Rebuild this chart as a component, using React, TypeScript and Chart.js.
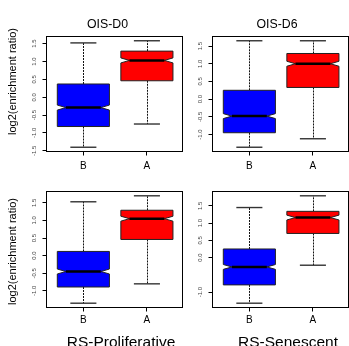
import React, { useEffect, useRef } from "react";
import { Chart, registerables } from "chart.js";

Chart.register(...registerables);

// Groups on the x axis of every panel
const groups = ["B", "A"];
const groupColors = ["#0000FF", "#FF0000"];
const panelTitles = ["OIS-D0", "OIS-D6", "RS-Proliferative", "RS-Senescent"];
const yAxisTitle = "log2(enrichment ratio)";

// Five-number summaries: [lower whisker, Q1, median, Q3, upper whisker]
const oisD0B = [-1.4, -0.82, -0.29, 0.37, 1.52];
const oisD0A = [-0.75, 0.46, 1.03, 1.29, 1.58];
const oisD6B = [-1.36, -0.95, -0.48, 0.25, 1.65];
const oisD6A = [-1.12, 0.33, 1.0, 1.29, 1.65];
const rsProB = [-1.35, -0.89, -0.45, 0.12, 1.53];
const rsProA = [-0.8, 0.46, 1.05, 1.29, 1.7];
const rsSenB = [-1.32, -0.79, -0.27, 0.25, 1.45];
const rsSenA = [-0.22, 0.7, 1.16, 1.34, 1.79];

// Labelled y ticks per panel
const ticksOisD0 = [-1.5, -1.0, -0.5, 0.0, 0.5, 1.0, 1.5];
const ticksOisD6 = [-1.0, -0.5, 0.0, 0.5, 1.0, 1.5];
const ticksRsPro = [-1.0, -0.5, 0.0, 0.5, 1.0, 1.5];
const ticksRsSen = [-1.0, 0.0, 0.5, 1.0, 1.5];

// Half-height of the median notch, in y units
const NOTCH_HALF = 0.07;

const FONT = "'Liberation Sans', Arial, Helvetica, sans-serif";
const Y_W = 16;
const X_H = 18;
const BOX_HALF = 0.41; // half box width in x units
const NOTCH_INDENT = 0.33; // fraction of half width cut in at the median
const X_MIN = 0.42;
const X_MAX = 2.56;

type Area = { l: number; r: number; t: number; b: number };
type PanelSpec = {
  title: string;
  stats: number[][];
  yTicks: number[];
  left: number;
  top: number;
  w: number;
  h: number;
  area: Area;
  titleAt: { x: number; y: number; size: number };
  ylab: boolean;
  xGap: number;
};

const panels: PanelSpec[] = [
  {
    title: panelTitles[0],
    stats: [oisD0B, oisD0A],
    yTicks: ticksOisD0,
    left: 0,
    top: 0,
    w: 196,
    h: 170,
    area: { l: 46.5, r: 182.5, t: 36.5, b: 151.5 },
    titleAt: { x: 107.5, y: 27.5, size: 12.3 },
    ylab: true,
    xGap: 5,
  },
  {
    title: panelTitles[1],
    stats: [oisD6B, oisD6A],
    yTicks: ticksOisD6,
    left: 196,
    top: 0,
    w: 153,
    h: 170,
    area: { l: 16.5, r: 152.5, t: 36.5, b: 151.5 },
    titleAt: { x: 81, y: 27.5, size: 12.3 },
    ylab: false,
    xGap: 5,
  },
  {
    title: panelTitles[2],
    stats: [rsProB, rsProA],
    yTicks: ticksRsPro,
    left: 0,
    top: 170,
    w: 196,
    h: 176,
    area: { l: 46.5, r: 182.5, t: 21.5, b: 137.5 },
    titleAt: { x: 121, y: 176.8, size: 15.5 },
    ylab: true,
    xGap: 3,
  },
  {
    title: panelTitles[3],
    stats: [rsSenB, rsSenA],
    yTicks: ticksRsSen,
    left: 196,
    top: 170,
    w: 153,
    h: 176,
    area: { l: 16.5, r: 152.5, t: 21.5, b: 137.5 },
    titleAt: { x: 92, y: 176.8, size: 15.5 },
    ylab: false,
    xGap: 3,
  },
];

// y limits padded by 4% of the whisker range on each side
function yRange(stats: number[][]): [number, number] {
  const lo = Math.min(...stats.map((s) => s[0]));
  const hi = Math.max(...stats.map((s) => s[4]));
  const pad = (hi - lo) * 0.04;
  return [lo - pad, hi + pad];
}

function makeBoxPlugin(stats: number[][]) {
  return {
    id: "notchedBoxes",
    afterDatasetsDraw(chart: any) {
      const { ctx } = chart;
      const xs = chart.scales.x;
      const ys = chart.scales.y;
      const line = (x1: number, y1: number, x2: number, y2: number) => {
        ctx.beginPath();
        ctx.moveTo(x1, y1);
        ctx.lineTo(x2, y2);
        ctx.stroke();
      };
      stats.forEach((s, i) => {
        const [lo, q1, med, q3, hi] = s;
        const cx = xs.getPixelForValue(i + 1);
        const hw = xs.getPixelForValue(i + 1 + BOX_HALF) - cx;
        const capW = hw / 2;
        const nw = hw * (1 - NOTCH_INDENT);
        const pLo = ys.getPixelForValue(lo);
        const pQ1 = ys.getPixelForValue(q1);
        const pMed = ys.getPixelForValue(med);
        const pQ3 = ys.getPixelForValue(q3);
        const pHi = ys.getPixelForValue(hi);
        const pNLo = ys.getPixelForValue(med - NOTCH_HALF);
        const pNHi = ys.getPixelForValue(med + NOTCH_HALF);
        const xc = Math.round(cx) + 0.5;

        ctx.save();
        // whiskers
        ctx.strokeStyle = "#111";
        ctx.lineWidth = 1;
        ctx.setLineDash([2, 1]);
        line(xc, pQ3, xc, pHi);
        line(xc, pQ1, xc, pLo);
        ctx.setLineDash([]);
        // whisker caps
        ctx.strokeStyle = "#333";
        ctx.lineWidth = 1.4;
        line(cx - capW, pHi, cx + capW, pHi);
        line(cx - capW, pLo, cx + capW, pLo);
        // notched box
        ctx.beginPath();
        ctx.moveTo(cx - hw, pQ1);
        ctx.lineTo(cx - hw, pNLo);
        ctx.lineTo(cx - nw, pMed);
        ctx.lineTo(cx - hw, pNHi);
        ctx.lineTo(cx - hw, pQ3);
        ctx.lineTo(cx + hw, pQ3);
        ctx.lineTo(cx + hw, pNHi);
        ctx.lineTo(cx + nw, pMed);
        ctx.lineTo(cx + hw, pNLo);
        ctx.lineTo(cx + hw, pQ1);
        ctx.closePath();
        ctx.fillStyle = groupColors[i];
        ctx.fill();
        ctx.strokeStyle = "#222";
        ctx.lineWidth = 1;
        ctx.stroke();
        // median
        ctx.strokeStyle = "#000";
        ctx.lineWidth = 2.5;
        line(cx - nw, pMed, cx + nw, pMed);
        ctx.restore();
      });
    },
  };
}

function makeTextPlugin(p: PanelSpec) {
  return {
    id: "panelText",
    afterDraw(chart: any) {
      const { ctx, chartArea } = chart;
      ctx.save();
      // plot frame
      ctx.strokeStyle = "#000";
      ctx.lineWidth = 1;
      ctx.strokeRect(
        chartArea.left,
        chartArea.top,
        chartArea.right - chartArea.left,
        chartArea.bottom - chartArea.top
      );
      // panel title
      ctx.fillStyle = "#000";
      ctx.font = `${p.titleAt.size}px ${FONT}`;
      ctx.textAlign = "center";
      ctx.textBaseline = "alphabetic";
      ctx.fillText(p.title, p.titleAt.x, p.titleAt.y);
      // y axis title
      if (p.ylab) {
        ctx.font = `11px ${FONT}`;
        ctx.textBaseline = "middle";
        ctx.translate(12.5, 81.5);
        ctx.rotate(-Math.PI / 2);
        ctx.fillText(yAxisTitle, 0, 0);
      }
      ctx.restore();
    },
  };
}

function Panel({ spec }: { spec: PanelSpec }) {
  const ref = useRef<HTMLCanvasElement | null>(null);

  useEffect(() => {
    if (!ref.current) return;
    const [yMin, yMax] = yRange(spec.stats);
    const { area, w, h } = spec;
    const chart = new Chart(ref.current, {
      type: "scatter",
      data: {
        datasets: [
          {
            data: spec.stats.map((s, i) => ({ x: i + 1, y: s[2] })),
            pointRadius: 0,
          },
        ],
      },
      options: {
        responsive: false,
        animation: false,
        devicePixelRatio: 1,
        layout: {
          padding: {
            left: area.l - Y_W,
            top: area.t,
            right: w - area.r,
            bottom: h - area.b - X_H,
          },
        },
        plugins: {
          legend: { display: false },
          tooltip: { enabled: false },
          title: { display: false },
        },
        scales: {
          x: {
            type: "linear",
            min: X_MIN,
            max: X_MAX,
            afterBuildTicks: (s: any) => {
              s.ticks = groups.map((_, i) => ({ value: i + 1 }));
            },
            afterFit: (s: any) => {
              s.height = X_H;
            },
            ticks: {
              callback: (v: any) => groups[Math.round(Number(v)) - 1] ?? "",
              font: { family: FONT, size: 10 },
              color: "#000",
              padding: spec.xGap,
              maxRotation: 0,
              autoSkip: false,
            },
            grid: {
              display: true,
              drawOnChartArea: false,
              drawTicks: true,
              tickLength: 4,
              color: "#000",
              lineWidth: 1,
            },
            border: { display: false },
          },
          y: {
            type: "linear",
            min: yMin,
            max: yMax,
            afterBuildTicks: (s: any) => {
              s.ticks = spec.yTicks.map((v) => ({ value: v }));
            },
            afterFit: (s: any) => {
              s.width = Y_W;
            },
            ticks: {
              callback: (v: any) => Number(v).toFixed(1),
              minRotation: 90,
              maxRotation: 90,
              crossAlign: "center",
              padding: 3,
              font: { family: FONT, size: 6 },
              color: "#444",
              autoSkip: false,
            },
            grid: {
              display: true,
              drawOnChartArea: false,
              drawTicks: true,
              tickLength: 4,
              color: "#000",
              lineWidth: 1,
            },
            border: { display: false },
          },
        },
      } as any,
      plugins: [makeBoxPlugin(spec.stats), makeTextPlugin(spec)],
    });
    return () => chart.destroy();
  }, [spec]);

  return (
    <canvas
      ref={ref}
      width={spec.w}
      height={spec.h}
      style={{
        position: "absolute",
        left: spec.left,
        top: spec.top,
        width: spec.w,
        height: spec.h,
      }}
    />
  );
}

export default function App() {
  return (
    <div
      style={{
        position: "fixed",
        left: 0,
        top: 0,
        width: 349,
        height: 346,
        background: "#fff",
        overflow: "hidden",
      }}
    >
      {panels.map((p) => (
        <Panel key={p.title} spec={p} />
      ))}
    </div>
  );
}
